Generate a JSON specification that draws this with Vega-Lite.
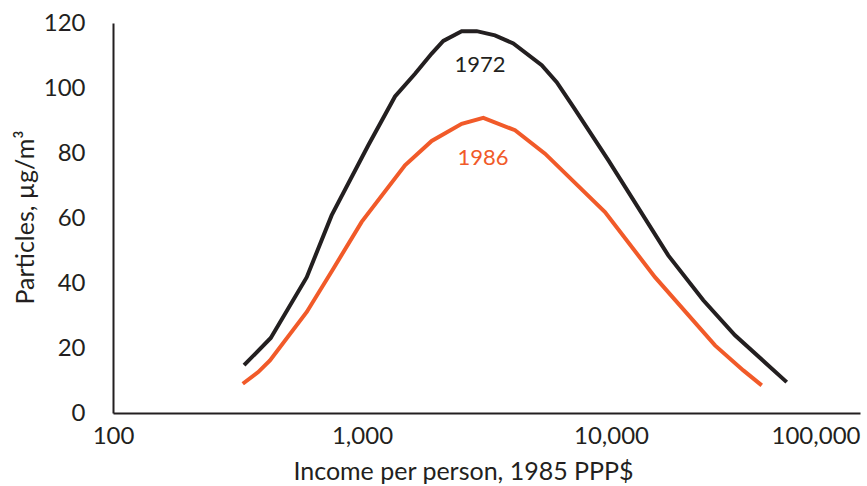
{
  "$schema": "https://vega.github.io/schema/vega-lite/v6.json",
  "width": 747,
  "height": 390,
  "autosize": {"type": "none"},
  "padding": {"left": 113, "top": 23, "right": 7, "bottom": 73},
  "background": "white",
  "config": {
    "view": {"stroke": null},
    "font": "Lato",
    "axis": {"grid": false, "ticks": false, "tickSize": 0, "domainColor": "#231f20", "domainWidth": 2, "labelColor": "#231f20", "titleColor": "#231f20", "labelFont": "Lato", "titleFont": "Lato", "labelFontWeight": "normal", "titleFontWeight": "normal"}
  },
  "datasets": {
    "curves": [
      {"year": "1972", "income": 336, "pm": 14.7},
      {"year": "1972", "income": 430, "pm": 23.1},
      {"year": "1972", "income": 600, "pm": 41.8},
      {"year": "1972", "income": 755, "pm": 60.8},
      {"year": "1972", "income": 1060, "pm": 82.4},
      {"year": "1972", "income": 1357, "pm": 97.4},
      {"year": "1972", "income": 1633, "pm": 104.4},
      {"year": "1972", "income": 1905, "pm": 110.6},
      {"year": "1972", "income": 2121, "pm": 114.5},
      {"year": "1972", "income": 2514, "pm": 117.5},
      {"year": "1972", "income": 2888, "pm": 117.5},
      {"year": "1972", "income": 3420, "pm": 116.2},
      {"year": "1972", "income": 4052, "pm": 113.7},
      {"year": "1972", "income": 5270, "pm": 107.0},
      {"year": "1972", "income": 6053, "pm": 101.8},
      {"year": "1972", "income": 7057, "pm": 94.2},
      {"year": "1972", "income": 9750, "pm": 77.8},
      {"year": "1972", "income": 16980, "pm": 48.5},
      {"year": "1972", "income": 23480, "pm": 34.7},
      {"year": "1972", "income": 31480, "pm": 23.9},
      {"year": "1972", "income": 50780, "pm": 9.5},
      {"year": "1986", "income": 332, "pm": 9.0},
      {"year": "1986", "income": 383, "pm": 12.6},
      {"year": "1986", "income": 427, "pm": 16.2},
      {"year": "1986", "income": 600, "pm": 31.1},
      {"year": "1986", "income": 767, "pm": 44.4},
      {"year": "1986", "income": 997, "pm": 58.8},
      {"year": "1986", "income": 1488, "pm": 76.2},
      {"year": "1986", "income": 1905, "pm": 83.7},
      {"year": "1986", "income": 2514, "pm": 89.0},
      {"year": "1986", "income": 3070, "pm": 90.8},
      {"year": "1986", "income": 4117, "pm": 87.0},
      {"year": "1986", "income": 5433, "pm": 79.8},
      {"year": "1986", "income": 9460, "pm": 61.8},
      {"year": "1986", "income": 15020, "pm": 41.8},
      {"year": "1986", "income": 26170, "pm": 20.8},
      {"year": "1986", "income": 33990, "pm": 13.1},
      {"year": "1986", "income": 40300, "pm": 8.5}
    ],
    "labels": [
      {"year": "1972", "income": 2978, "pm": 107},
      {"year": "1986", "income": 3060, "pm": 78.4}
    ]
  },
  "layer": [
    {
      "data": {"name": "curves"},
      "mark": {"type": "line", "strokeWidth": 4, "strokeJoin": "miter", "strokeCap": "butt"},
      "encoding": {
        "x": {
          "field": "income", "type": "quantitative",
          "scale": {"type": "log", "domain": [100, 100000], "nice": false},
          "axis": {
            "title": "Income per person, 1985 PPP$",
            "values": [100, 1000, 10000, 100000],
            "format": ",d",
            "labelFontSize": 24,
            "labelPadding": 30,
            "labelBaseline": "alphabetic",
            "labelAlign": {"condition": {"test": "datum.value >= 100000", "value": "right"}, "value": "center"},
            "titleFontSize": 25,
            "titleBaseline": "alphabetic",
            "titleAlign": "center",
            "titleX": 350,
            "titleY": 66
          }
        },
        "y": {
          "field": "pm", "type": "quantitative",
          "scale": {"domain": [0, 120], "nice": false},
          "axis": {
            "title": "Particles, µg/m³",
            "values": [0, 20, 40, 60, 80, 100, 120],
            "labelFontSize": 24,
            "labelPadding": 28,
            "titleFontSize": 25,
            "titleAngle": -90,
            "titleBaseline": "alphabetic",
            "titleAlign": "center",
            "titleX": -80,
            "titleY": 194
          }
        },
        "color": {
          "field": "year", "type": "nominal",
          "scale": {"domain": ["1972", "1986"], "range": ["#231f20", "#f15a29"]},
          "legend": null
        }
      }
    },
    {
      "data": {"name": "labels"},
      "mark": {"type": "text", "fontSize": 22, "align": "center", "baseline": "middle", "font": "Lato"},
      "encoding": {
        "x": {"field": "income", "type": "quantitative"},
        "y": {"field": "pm", "type": "quantitative"},
        "text": {"field": "year", "type": "nominal"},
        "color": {"field": "year", "type": "nominal", "legend": null}
      }
    }
  ]
}
